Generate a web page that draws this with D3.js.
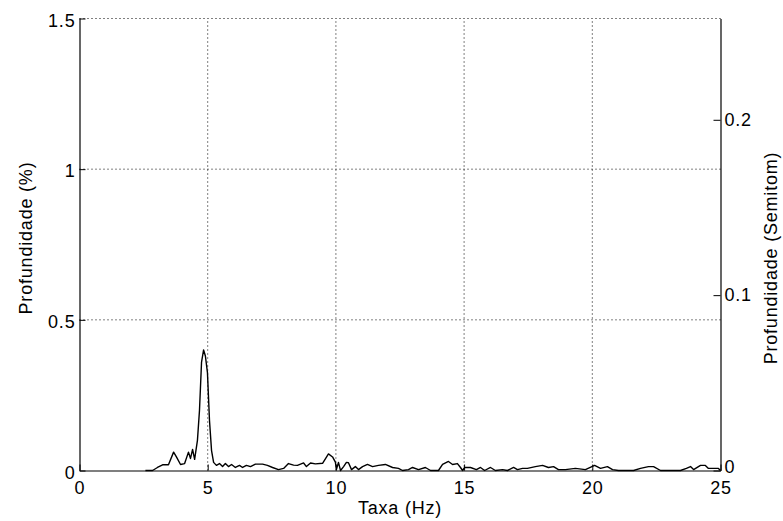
<!DOCTYPE html>
<html>
<head>
<meta charset="utf-8">
<script src="https://cdn.jsdelivr.net/npm/d3@7"></script>
<style>
  html, body { margin: 0; padding: 0; background: #fff; }
  svg { display: block; }
  text { font-family: "Liberation Sans", Arial, sans-serif; font-size: 18px; letter-spacing: 0.8px; fill: #000; }
</style>
</head>
<body>
<svg id="chart" width="783" height="521"></svg>
<script>
// ---- data ----
const freqHz = [2.57, 2.85, 3.04, 3.24, 3.47, 3.67, 3.78, 3.94, 4.10, 4.25, 4.33, 4.41, 4.49, 4.60, 4.68, 4.76, 4.84, 4.91, 4.99, 5.07, 5.15, 5.23, 5.34, 5.46, 5.58, 5.69, 5.81, 5.93, 6.08, 6.24, 6.36, 6.51, 6.67, 6.86, 7.14, 7.33, 7.53, 7.76, 7.96, 8.15, 8.35, 8.50, 8.74, 8.85, 9.01, 9.20, 9.48, 9.71, 9.87, 9.98, 10.02, 10.10, 10.18, 10.30, 10.41, 10.49, 10.61, 10.76, 10.88, 11.04, 11.23, 11.43, 11.66, 11.93, 12.21, 12.44, 12.60, 12.83, 12.99, 13.22, 13.49, 13.69, 14.00, 14.16, 14.39, 14.55, 14.74, 14.86, 14.94, 15.02, 15.25, 15.48, 15.64, 15.80, 16.03, 16.22, 16.50, 16.69, 16.93, 17.08, 17.28, 17.47, 17.78, 18.06, 18.29, 18.49, 18.68, 18.95, 19.34, 19.73, 20.09, 20.32, 20.59, 20.79, 21.02, 21.61, 21.88, 22.19, 22.39, 22.66, 22.93, 23.44, 23.67, 23.83, 23.95, 24.22, 24.41, 24.53, 24.92, 25.0];
const depthPct = [0, 0, 0.010, 0.019, 0.019, 0.061, 0.045, 0.020, 0.023, 0.061, 0.040, 0.070, 0.037, 0.100, 0.200, 0.360, 0.400, 0.380, 0.325, 0.166, 0.066, 0.027, 0.017, 0.023, 0.013, 0.023, 0.013, 0.020, 0.010, 0.017, 0.010, 0.017, 0.013, 0.021, 0.021, 0.017, 0.010, 0.003, 0.007, 0.023, 0.018, 0.017, 0.025, 0.013, 0.025, 0.022, 0.024, 0.055, 0.045, 0.028, 0.003, 0.027, 0.0, 0.013, 0.027, 0.026, 0.003, 0.013, 0.003, 0.013, 0.020, 0.013, 0.017, 0.020, 0.010, 0.007, 0.0, 0.003, 0.010, 0.003, 0.010, 0.0, 0.0, 0.020, 0.030, 0.020, 0.023, 0.010, 0.0, 0.010, 0.010, 0.003, 0.010, 0.0, 0.010, 0.0, 0.003, 0.0, 0.010, 0.003, 0.007, 0.007, 0.013, 0.017, 0.010, 0.013, 0.003, 0.003, 0.007, 0.003, 0.017, 0.007, 0.013, 0.003, 0.0, 0.0, 0.007, 0.013, 0.013, 0.0, 0.0, 0.0, 0.007, 0.013, 0.003, 0.017, 0.017, 0.007, 0.007, 0.0];
const xTicks = [0, 5, 10, 15, 20, 25];
const yLeftTicks = [0, 0.5, 1, 1.5];
const yRightTicks = [0, 0.1, 0.2];
const xLabel = "Taxa (Hz)";
const yLeftLabel = "Profundidade (%)";
const yRightLabel = "Profundidade (Semitom)";

// ---- layout ----
const L = 79.5, R = 720.5, T = 18.5, B = 470.5;
const svg = d3.select("#chart");
const x = d3.scaleLinear().domain([0, 25]).range([L, R]);
const y = d3.scaleLinear().domain([0, 1.5]).range([B, T]);
const yR = d3.scaleLinear().domain([0, 12 * Math.log2(1.015)]).range([B, T]);

// grid
const grid = svg.append("g").attr("stroke", "#000").attr("stroke-width", 1).attr("stroke-dasharray", "1,3");
grid.selectAll("line.gx").data(xTicks.filter(d => d > 0 && d < 25)).join("line")
  .attr("x1", d => x(d)).attr("x2", d => x(d)).attr("y1", B).attr("y2", T);
grid.selectAll("line.gy").data(yLeftTicks.filter(d => d > 0)).join("line")
  .attr("class", "gy")
  .attr("x1", L).attr("x2", R).attr("y1", d => y(d)).attr("y2", d => y(d));

// axes
const fmt = d => String(d);
const ax = svg.append("g").attr("transform", `translate(0,${B})`)
  .call(d3.axisBottom(x).tickValues(xTicks).tickFormat(fmt).tickSizeInner(-6).tickSizeOuter(0).tickPadding(11));
const ayL = svg.append("g").attr("transform", `translate(${L},0)`)
  .call(d3.axisLeft(y).tickValues(yLeftTicks).tickFormat(fmt).tickSizeInner(-6).tickSizeOuter(0).tickPadding(4));
const ayR = svg.append("g").attr("transform", `translate(${R},0)`)
  .call(d3.axisRight(yR).tickValues(yRightTicks).tickFormat(fmt).tickSizeInner(-7).tickSizeOuter(0).tickPadding(4));
[ax, ayL, ayR].forEach(g => {
  g.attr("font-family", null).attr("font-size", null);
  g.selectAll(".domain").attr("stroke", "#000").attr("stroke-width", 1.2);
  g.selectAll(".tick line").attr("stroke", "#000");
  g.selectAll(".tick text").attr("fill", "#000");
});
ayL.selectAll(".tick text").attr("dy", "0.42em");
ayR.selectAll(".tick text").attr("dy", d => d === 0 ? "0.1em" : "0.3em");

// data line
const line = d3.line().x((d, i) => x(freqHz[i])).y(d => y(d));
svg.append("path").datum(depthPct)
  .attr("fill", "none").attr("stroke", "#000").attr("stroke-width", 1.4)
  .attr("stroke-linejoin", "round").attr("d", line);

// labels
svg.append("text").attr("x", (L + R) / 2).attr("y", 514).attr("text-anchor", "middle").text(xLabel);
svg.append("text").attr("transform", `translate(32,238) rotate(-90)`)
  .attr("text-anchor", "middle").text(yLeftLabel);
svg.append("text").attr("transform", `translate(777,258) rotate(-90)`)
  .attr("text-anchor", "middle").text(yRightLabel);
</script>
</body>
</html>
